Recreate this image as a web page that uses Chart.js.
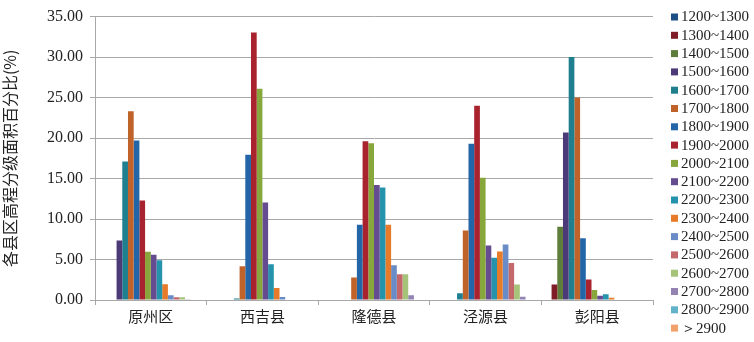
<!DOCTYPE html>
<html>
<head>
<meta charset="utf-8">
<script src="https://cdn.jsdelivr.net/npm/chart.js@4"></script>
<style>
    body { margin: 0; background: #fff; }
    canvas { display: block; }
</style>
</head>
<body>
<canvas id="chart" width="754" height="342"></canvas>
<script>
// Counties (x categories)
const counties = ['原州区', '西吉县', '隆德县', '泾源县', '彭阳县'];

// Elevation classes (series)
const classes = ['1200~1300', '1300~1400', '1400~1500', '1500~1600', '1600~1700', '1700~1800',
    '1800~1900', '1900~2000', '2000~2100', '2100~2200', '2200~2300', '2300~2400',
    '2400~2500', '2500~2600', '2600~2700', '2700~2800', '2800~2900', '＞2900'];

const classColors = ['#1d4f87', '#7f1d26', '#5f7d3a', '#4c3a78', '#1f7f8f', '#c0632b',
    '#2366a8', '#a9232f', '#87a63c', '#654b8f', '#2593ac', '#e77b2a',
    '#6a8cc6', '#c4676b', '#a5c47a', '#9283b3', '#62b3c9', '#f2a16c'];

// Percent of area per elevation class, one array per county
const yuanzhou = [0, 0, 0, 7.34, 17.1, 23.3, 19.7, 12.3, 5.95, 5.6, 4.9, 1.96, 0.6, 0.33, 0.33, 0.1, 0.05, 0];
const xiji     = [0, 0, 0, 0, 0.2, 4.16, 17.95, 33.05, 26.1, 12.03, 4.4, 1.47, 0.37, 0.05, 0, 0, 0, 0];
const longde   = [0, 0, 0, 0, 0, 2.78, 9.3, 19.6, 19.35, 14.2, 13.9, 9.3, 4.28, 3.18, 3.18, 0.6, 0, 0];
const jingyuan = [0, 0, 0, 0, 0.82, 8.57, 19.3, 24.0, 15.1, 6.73, 5.22, 6.0, 6.85, 4.57, 1.92, 0.41, 0, 0];
const pengyang = [0, 1.92, 9.06, 20.7, 30.0, 25.0, 7.63, 2.53, 1.22, 0.53, 0.7, 0.28, 0, 0, 0, 0, 0, 0];

const countyValues = [yuanzhou, xiji, longde, jingyuan, pengyang];

const gridColor = '#a8a8a8';
const serif = "'Liberation Serif', 'Times New Roman', serif";
const cjk = "'Noto Sans CJK SC', sans-serif";

// Build one dataset per elevation class
const datasets = classes.map((label, i) => ({
    label: label,
    data: countyValues.map(row => row[i]),
    backgroundColor: classColors[i],
    borderWidth: 0,
    categoryPercentage: 0.92,
    barPercentage: 1.0
}));

// Simple legend on the right, drawn from the datasets
const sideLegend = {
    id: 'sideLegend',
    afterDraw(chart) {
        const ctx = chart.ctx;
        ctx.save();
        ctx.font = '15px ' + serif;
        ctx.textBaseline = 'middle';
        ctx.textAlign = 'left';
        chart.data.datasets.forEach((ds, i) => {
            const y = 17 + i * 18.3;
            ctx.fillStyle = ds.backgroundColor;
            ctx.fillRect(671, y - 3.5, 7, 7);
            ctx.fillStyle = '#222';
            ctx.fillText(ds.label, 681, y + 0.5);
        });
        ctx.restore();
    }
};

new Chart(document.getElementById('chart'), {
    type: 'bar',
    data: { labels: counties, datasets: datasets },
    options: {
        responsive: false,
        animation: false,
        layout: { padding: { top: 14, right: 101, left: 0, bottom: 0 } },
        plugins: {
            legend: { display: false },
            tooltip: { enabled: false }
        },
        scales: {
            x: {
                afterFit: (scale) => { scale.height = 42; },
                grid: {
                    offset: true,
                    drawOnChartArea: false,
                    tickLength: 5,
                    color: gridColor
                },
                border: { color: gridColor, width: 1 },
                ticks: {
                    padding: 2,
                    color: '#222',
                    font: { family: cjk, size: 15 }
                }
            },
            y: {
                min: 0,
                max: 35,
                afterFit: (scale) => { scale.width = 95; },
                ticks: {
                    stepSize: 5,
                    padding: 7,
                    color: '#222',
                    font: { family: serif, size: 16 },
                    callback: (v) => v.toFixed(2)
                },
                grid: { color: gridColor, tickLength: 5 },
                border: { color: gridColor, width: 1 },
                title: {
                    display: true,
                    text: '各县区高程分级面积百分比(%)',
                    color: '#222',
                    font: { family: cjk, size: 16 },
                    padding: { top: 0, bottom: 0 }
                }
            }
        }
    },
    plugins: [sideLegend]
});
</script>
</body>
</html>
